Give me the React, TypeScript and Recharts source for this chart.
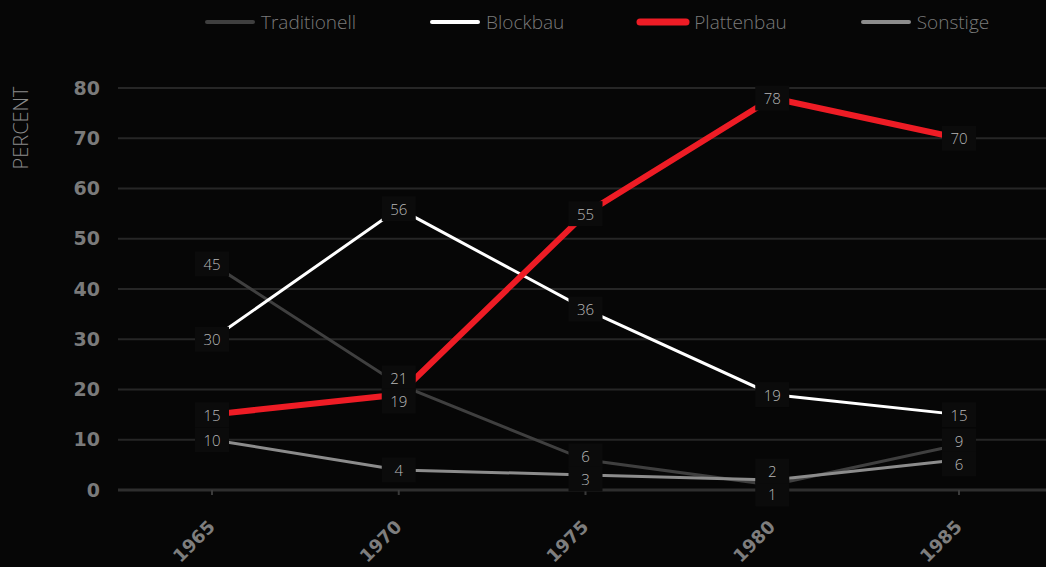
import React from 'react';
import { LineChart, Line, XAxis, YAxis, CartesianGrid, Legend, LabelList } from 'recharts';

// Share of new housing by construction method, per five-year step
const years = ['1965', '1970', '1975', '1980', '1985'];
const traditionell = [45, 21, 6, 1, 9];
const blockbau = [30, 56, 36, 19, 15];
const plattenbau = [15, 19, 55, 78, 70];
const sonstige = [10, 4, 3, 2, 6];
const yTicks = [0, 10, 20, 30, 40, 50, 60, 70, 80];

const seriesNames = { traditionell: 'Traditionell', blockbau: 'Blockbau', plattenbau: 'Plattenbau', sonstige: 'Sonstige' };
const seriesValues: Record<string, number[]> = { traditionell, blockbau, plattenbau, sonstige };

const data = years.map((year, i) => ({
  year,
  traditionell: traditionell[i],
  blockbau: blockbau[i],
  plattenbau: plattenbau[i],
  sonstige: sonstige[i],
}));

const W = 1060;
const H = 567;
const M = { top: 88, right: 7, bottom: 0, left: 0 };
const X_AXIS_H = 77;
const Y_AXIS_W = 118;
const PLOT_H = H - M.top - M.bottom - X_AXIS_H;
const Y_MAX = 80;
const PX_PER_UNIT = PLOT_H / Y_MAX;

const BG = '#060606';
const FONT = '"Open Sans", "DejaVu Sans", sans-serif';
const AXIS_FONT = '"DejaVu Sans", sans-serif';

const styles = {
  traditionell: { color: '#3f3f3f', width: 3, legendWidth: 4 },
  blockbau: { color: '#ffffff', width: 3, legendWidth: 4 },
  plattenbau: { color: '#ee1c25', width: 6, legendWidth: 7 },
  sonstige: { color: '#8c8c8c', width: 3, legendWidth: 4 },
};

const legendOrder = ['traditionell', 'blockbau', 'plattenbau', 'sonstige'] as const;
const drawOrder = ['traditionell', 'sonstige', 'blockbau', 'plattenbau'] as const;

// Spread value labels of the same year apart so their boxes do not cover each other
const LABEL_GAP = 23;
const labelShift: Record<string, number[]> = {};
Object.keys(seriesValues).forEach((k) => (labelShift[k] = years.map(() => 0)));
years.forEach((_, i) => {
  const items = Object.keys(seriesValues).map((k) => ({ k, base: -seriesValues[k][i] * PX_PER_UNIT, pos: -seriesValues[k][i] * PX_PER_UNIT }));
  for (let iter = 0; iter < 20; iter++) {
    items.sort((a, b) => a.pos - b.pos);
    let moved = false;
    for (let j = 1; j < items.length; j++) {
      const d = items[j].pos - items[j - 1].pos;
      if (d < LABEL_GAP - 0.01) {
        const push = (LABEL_GAP - d) / 2;
        items[j - 1].pos -= push;
        items[j].pos += push;
        moved = true;
      }
    }
    if (!moved) break;
  }
  items.forEach((it) => (labelShift[it.k][i] = it.pos - it.base));
});

const makeValueLabel = (key: string) => (props: any) => {
  const { x, y, value, index } = props;
  if (x == null || y == null) return null;
  const cy = y + (labelShift[key]?.[index] ?? 0);
  const bw = 34;
  const bh = 25;
  return (
    <g>
      <rect x={x - bw / 2} y={cy - bh / 2} width={bw} height={bh} fill="#0b0b0b" />
      <text x={x} y={cy} textAnchor="middle" dominantBaseline="central" fill="#b8b8b8" fontFamily={FONT} fontWeight={300} fontSize={15}>
        {value}
      </text>
    </g>
  );
};

const YearTick = (props: any) => {
  const { x, y, payload } = props;
  return (
    <text
      transform={`translate(${x + 4},${y + 31}) rotate(-45)`}
      textAnchor="end"
      fill="#7e7e7e"
      fontFamily={AXIS_FONT}
      fontWeight={700}
      fontSize={18}
    >
      {payload.value}
    </text>
  );
};

const PercentLabel = (props: any) => {
  const vb = props.viewBox || { x: 0, y: M.top };
  const cx = vb.x + 20;
  const cy = vb.y + 40;
  return (
    <text
      x={cx}
      y={cy}
      transform={`rotate(-90, ${cx}, ${cy})`}
      textAnchor="middle"
      dominantBaseline="central"
      fill="#8a8a8a"
      fontFamily={FONT}
      fontWeight={300}
      fontSize={20}
    >
      PERCENT
    </text>
  );
};

const LegendContent = () => (
  <div style={{ display: 'flex', alignItems: 'center', fontFamily: FONT, fontWeight: 300, fontSize: 19, color: '#7a7a7a', lineHeight: '26px', whiteSpace: 'nowrap' }}>
    {legendOrder.map((k) => (
      <div key={k} style={{ display: 'flex', alignItems: 'center', marginRight: 72 }}>
        <svg width={54} height={10} style={{ display: 'block' }}>
          <line x1={4} x2={50} y1={5} y2={5} stroke={styles[k].color} strokeWidth={styles[k].legendWidth} strokeLinecap="round" />
        </svg>
        <span style={{ marginLeft: 4 }}>{seriesNames[k]}</span>
      </div>
    ))}
  </div>
);

export default function App() {
  return (
    <div style={{ position: 'fixed', left: 0, top: 0, width: 1046, height: 567, overflow: 'hidden', background: BG }}>
      <LineChart width={W} height={H} data={data} margin={M}>
        <CartesianGrid vertical={false} stroke="#262626" strokeWidth={2} />
        <XAxis
          dataKey="year"
          height={X_AXIS_H}
          padding={{ left: 94, right: 94 }}
          axisLine={{ stroke: '#2e2e2e', strokeWidth: 3 }}
          tickLine={{ stroke: '#3a3a3a', strokeWidth: 2 }}
          tickSize={5}
          tick={<YearTick />}
          interval={0}
        />
        <YAxis
          width={Y_AXIS_W}
          domain={[0, Y_MAX]}
          ticks={yTicks}
          axisLine={false}
          tickLine={false}
          tickSize={6}
          tickMargin={12}
          tick={{ fill: '#7a7a7a', fontFamily: AXIS_FONT, fontWeight: 700, fontSize: 19 }}
          label={<PercentLabel />}
        />
        <Legend
          content={<LegendContent />}
          layout="horizontal"
          verticalAlign="middle"
          wrapperStyle={{ top: 9, left: 203, width: 'auto', height: 26 }}
        />
        {drawOrder.map((k) => (
          <Line
            key={k}
            type="linear"
            dataKey={k}
            name={seriesNames[k]}
            stroke={styles[k].color}
            strokeWidth={styles[k].width}
            dot={false}
            activeDot={false}
            isAnimationActive={false}
          />
        ))}
        {drawOrder.map((k) => (
          <Line
            key={`${k}-labels`}
            type="linear"
            dataKey={k}
            stroke="none"
            strokeWidth={0}
            dot={false}
            activeDot={false}
            legendType="none"
            isAnimationActive={false}
          >
            <LabelList dataKey={k} content={makeValueLabel(k)} />
          </Line>
        ))}
      </LineChart>
    </div>
  );
}
